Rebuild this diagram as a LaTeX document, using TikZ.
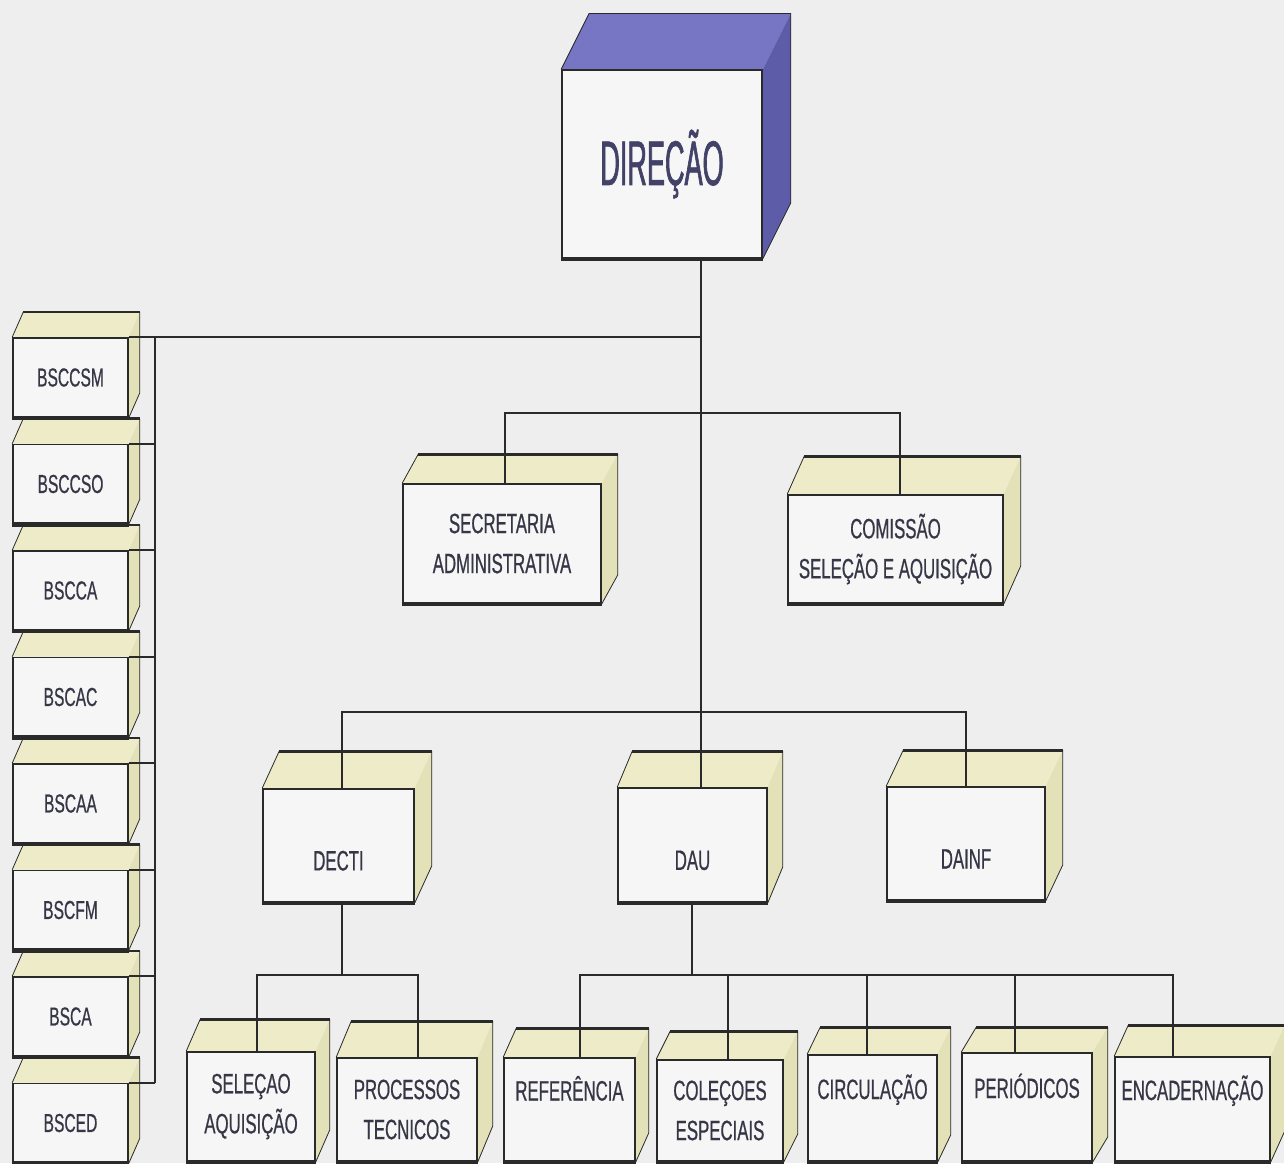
\documentclass[tikz,border=0pt]{standalone}
\usepackage{fontspec}
\newfontfamily\boxfont[FakeStretch=0.6,FakeBold=0.6]{Liberation Sans}
\newfontfamily\dirfont[FakeStretch=0.43,FakeBold=1]{Liberation Sans}
\pgfdeclarelayer{paper}
\pgfdeclarelayer{back}
\pgfsetlayers{paper,back,main}
\definecolor{paper}{RGB}{238,238,238}
\definecolor{facefront}{RGB}{246,246,246}
\definecolor{facetop}{RGB}{237,235,200}
\definecolor{faceside}{RGB}{227,225,184}
\definecolor{dirtop}{RGB}{118,118,196}
\definecolor{dirside}{RGB}{92,92,168}
\definecolor{ink}{RGB}{42,42,42}
\definecolor{label}{RGB}{54,54,70}
\definecolor{dirlabel}{RGB}{66,66,104}
\tikzset{
  front/.style={draw=ink, line width=1.6pt, fill=facefront, inner sep=0pt,
    text=label, font=\boxfont\fontsize{28}{40}\selectfont, align=center},
  side/.style={front, font=\boxfont\fontsize{26}{32}\selectfont,
    minimum width=115pt, minimum height=79pt},
  textdown/.style={text height=50pt},
  textup/.style={text height=22pt, text depth=40pt},
  link/.style={draw=ink, line width=1.6pt},
}
\begin{document}
\begin{tikzpicture}[x=1pt, y=-1pt]
\begin{pgfonlayer}{paper}
  \fill[paper] (0,0) rectangle (1284,1163);
\end{pgfonlayer}
\useasboundingbox (0,0) rectangle (1284,1163);

% front faces
\node[front, minimum width=200pt, minimum height=188pt, text=dirlabel,
  font=\dirfont\fontsize{63}{70}\selectfont] (dir) at (662,164) {DIREÇÃO};
\node[front, minimum width=198pt, minimum height=119pt] (sec) at (502,543.5) {SECRETARIA\\ADMINISTRATIVA};
\node[front, minimum width=215pt, minimum height=108pt] (com) at (895.5,549) {COMISSÃO\\SELEÇÃO E AQUISIÇÃO};
\node[front, textdown, minimum width=151pt, minimum height=113pt] (decti) at (338.5,845.5) {DECTI};
\node[front, textdown, minimum width=149pt, minimum height=114pt] (dau) at (692.5,845) {DAU};
\node[front, textdown, minimum width=158pt, minimum height=113pt] (dainf) at (966,843.5) {DAINF};
\node[front, minimum width=128pt, minimum height=109pt] (sel) at (251,1106.5) {SELEÇAO\\AQUISIÇÃO};
\node[front, minimum width=140pt, minimum height=103pt] (proc) at (407,1109.5) {PROCESSOS\\TECNICOS};
\node[front, textup, minimum width=131pt, minimum height=103pt] (ref) at (569.5,1109.5) {REFERÊNCIA};
\node[front, minimum width=126pt, minimum height=101pt] (col) at (720,1110.5) {COLEÇOES\\ESPECIAIS};
\node[front, textup, minimum width=129pt, minimum height=106pt] (circ) at (872.5,1108) {CIRCULAÇÃO};
\node[front, textup, minimum width=130pt, minimum height=108pt] (per) at (1027,1107) {PERIÓDICOS};
\node[front, textup, minimum width=155pt, minimum height=104pt] (enc) at (1192.5,1109) {ENCADERNAÇÃO};
\foreach \lab [count=\i from 0] in {BSCCSM,BSCCSO,BSCCA,BSCAC,BSCAA,BSCFM,BSCA,BSCED}
  \node[side] (b\i) at (70.5,377.5+106.5*\i) {\lab};

% depth faces
\foreach \n/\dx/\dy/\ct/\cs/\tw in {dir/28/-56/dirtop/dirside/0.8,
    sec/16/-29/facetop/faceside/3, com/17/-38/facetop/faceside/3,
    decti/17/-37/facetop/faceside/3, dau/15/-36/facetop/faceside/3,
    dainf/17/-36/facetop/faceside/3, sel/14/-32/facetop/faceside/3,
    proc/15/-36/facetop/faceside/3, ref/13/-29/facetop/faceside/3,
    col/14/-28/facetop/faceside/3, circ/13/-27/facetop/faceside/3,
    per/15/-25/facetop/faceside/3, enc/14/-31/facetop/faceside/3,
    b0/11/-25/facetop/faceside/2.5, b1/11/-25/facetop/faceside/2.5,
    b2/11/-25/facetop/faceside/2.5, b3/11/-25/facetop/faceside/2.5,
    b4/11/-25/facetop/faceside/2.5, b5/11/-25/facetop/faceside/2.5,
    b6/11/-25/facetop/faceside/2.5, b7/11/-25/facetop/faceside/2.5} {
  \begin{pgfonlayer}{back}
    \fill[\ct] (\n.north west) -- ++(\dx,\dy) -- ([shift={(\dx,\dy)}]\n.north east) -- (\n.north east) -- cycle;
    \fill[\cs] (\n.north east) -- ([shift={(\dx,\dy)}]\n.north east) -- ([shift={(\dx,\dy)}]\n.south east) -- (\n.south east) -- cycle;
  \end{pgfonlayer}
  \draw[ink, line width=0.8pt] (\n.north west) -- ++(\dx,\dy)
    (\n.south east) -- ++(\dx,\dy) -- ([shift={(\dx,\dy)}]\n.north east);
  \draw[ink, line width=\tw pt] ([shift={(\dx,\dy)}]\n.north west) -- ([shift={(\dx,\dy)}]\n.north east);
  \draw[ink, line width=4.5pt] (\n.south west) -- (\n.south east);
}

% junctions
\coordinate (trunk) at (701,338);
\coordinate (spine) at (155,338);
\coordinate (jsec) at (505,413);
\coordinate (jcom) at (900,413);
\coordinate (jdecti) at (342,712);
\coordinate (jdainf) at (966,712);
\coordinate (jdau) at (692,975);
\coordinate (jsel) at (257,975);
\coordinate (jproc) at (418,975);
\coordinate (jref) at (580,975);
\coordinate (jcol) at (728,975);
\coordinate (jcirc) at (867,975);
\coordinate (jper) at (1015,975);
\coordinate (jenc) at (1173,975);

% connectors
\draw[link] (dir.south -| trunk) -- (trunk |- dau.north);
\draw[link] (b0.north east) -- (b0.north east -| trunk);
\draw[link] (b0.north east -| spine) -- (b7.north east -| spine);
\foreach \i in {1,...,7}
  \draw[link] (b\i.north east) -- (b\i.north east -| spine);
\draw[link] (jsec |- sec.north) -- (jsec) -- (jcom) -- (jcom |- com.north);
\draw[link] (jdecti |- decti.north) -- (jdecti) -- (jdainf) -- (jdainf |- dainf.north);
\draw[link] (decti.south -| jdecti) -- (jdecti |- jsel);
\draw[link] (jsel |- sel.north) -- (jsel) -- (jproc) -- (jproc |- proc.north);
\draw[link] (jdau |- dau.south) -- (jdau);
\draw[link] (jref |- ref.north) -- (jref) -- (jenc) -- (jenc |- enc.north);
\foreach \n in {col,circ,per}
  \draw[link] (j\n) -- (j\n |- \n.north);
\end{tikzpicture}
\end{document}
